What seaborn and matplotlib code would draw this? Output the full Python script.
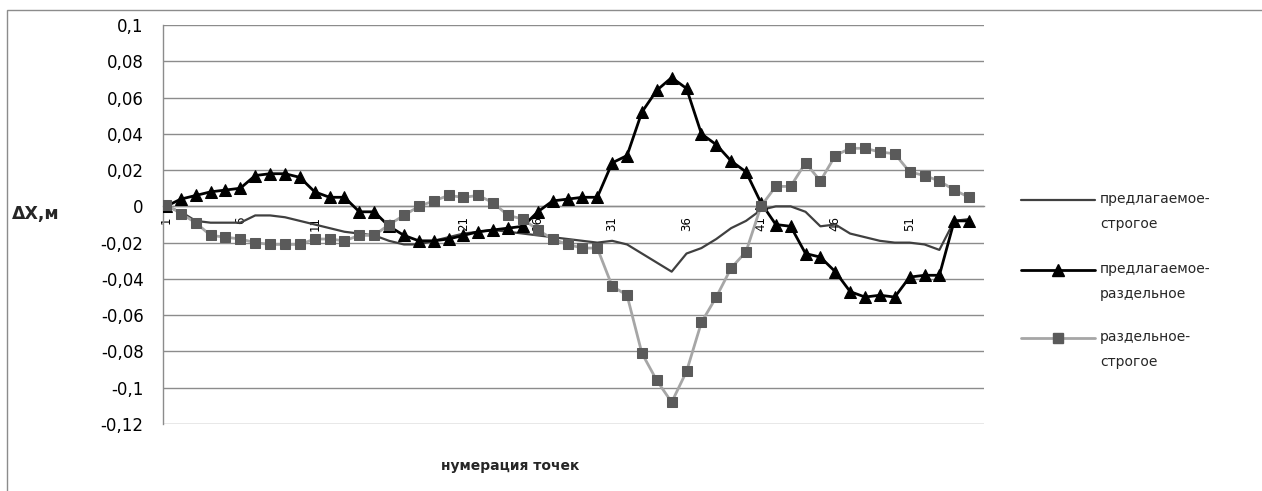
import matplotlib
matplotlib.use("Agg")
import matplotlib.pyplot as plt
from matplotlib.lines import Line2D
from matplotlib.patches import Rectangle
from matplotlib.ticker import FuncFormatter, FixedLocator
import seaborn as sns
import pandas as pd

points = list(range(1, 56))
x_labels = [1, 6, 11, 16, 21, 26, 31, 36, 41, 46, 51]

pred_strog = [0.000, -0.003, -0.008, -0.009, -0.009, -0.009, -0.005, -0.005, -0.006, -0.008,
              -0.010, -0.012, -0.014, -0.015, -0.016, -0.019, -0.021, -0.021, -0.019, -0.017,
              -0.015, -0.014, -0.013, -0.014, -0.015, -0.016, -0.017, -0.018, -0.019, -0.020,
              -0.019, -0.021, -0.026, -0.031, -0.036, -0.026, -0.023, -0.018, -0.012, -0.008,
              -0.002, 0.000, 0.000, -0.003, -0.011, -0.010, -0.015, -0.017, -0.019, -0.020,
              -0.020, -0.021, -0.024, -0.008, -0.007]

pred_razd = [0.000, 0.004, 0.006, 0.008, 0.009, 0.010, 0.017, 0.018, 0.018, 0.016,
             0.008, 0.005, 0.005, -0.003, -0.003, -0.011, -0.016, -0.019, -0.019, -0.018,
             -0.016, -0.014, -0.013, -0.012, -0.011, -0.003, 0.003, 0.004, 0.005, 0.005,
             0.024, 0.028, 0.052, 0.064, 0.071, 0.065, 0.040, 0.034, 0.025, 0.019,
             0.002, -0.010, -0.011, -0.026, -0.028, -0.036, -0.047, -0.050, -0.049, -0.050,
             -0.039, -0.038, -0.038, -0.008, -0.008]

razd_strog = [0.001, -0.004, -0.009, -0.016, -0.017, -0.018, -0.020, -0.021, -0.021, -0.021,
              -0.018, -0.018, -0.019, -0.016, -0.016, -0.010, -0.005, 0.000, 0.003, 0.006,
              0.005, 0.006, 0.002, -0.005, -0.007, -0.013, -0.018, -0.021, -0.023, -0.023,
              -0.044, -0.049, -0.081, -0.096, -0.108, -0.091, -0.064, -0.050, -0.034, -0.025,
              0.000, 0.011, 0.011, 0.024, 0.014, 0.028, 0.032, 0.032, 0.030, 0.029,
              0.019, 0.017, 0.014, 0.009, 0.005]

labels = ["предлагаемое-\nстрогое", "предлагаемое-\nраздельное", "раздельное-\nстрогое"]

sns.set_style("white")
plt.rcParams['font.family'] = ['DejaVu Sans']

W, H = 1262, 491
fig = plt.figure(figsize=(W / 100, H / 100), dpi=100)
ax = fig.add_axes([163 / W, 1 - 424 / H, (984 - 163) / W, (424 - 25) / H])

df = pd.DataFrame({"p": points, "a": pred_strog, "b": pred_razd, "c": razd_strog})

c_line = "#404040"
c_sq_line = "#a6a6a6"
c_sq = "#5a5a5a"

sns.lineplot(data=df, x="p", y="a", ax=ax, color=c_line, linewidth=1.6, zorder=3)
sns.lineplot(data=df, x="p", y="b", ax=ax, color="black", linewidth=2.0, marker="^",
             markersize=9, markerfacecolor="black", markeredgecolor="black", zorder=4)
sns.lineplot(data=df, x="p", y="c", ax=ax, color=c_sq_line, linewidth=2.0, marker="s",
             markersize=7, markerfacecolor=c_sq, markeredgecolor=c_sq, zorder=5)

ax.set_xlim(0.8, 56.0)
ax.set_ylim(-0.12, 0.1)
ax.set_yticks([0.1 - 0.02 * i for i in range(12)])


def fmt(v, pos):
    s = f"{v:.2f}".rstrip("0").rstrip(".")
    if s in ("-0", "0", "0."):
        return "0"
    return s.replace(".", ",")


ax.yaxis.set_major_formatter(FuncFormatter(fmt))
ax.grid(axis="y", color="#8c8c8c", linewidth=1.0)
ax.grid(axis="x", visible=False)
ax.set_axisbelow(True)

for s in ["top", "right"]:
    ax.spines[s].set_visible(False)
ax.spines["left"].set_color("#8c8c8c")
ax.spines["left"].set_linewidth(1.0)
ax.spines["bottom"].set_position(("data", 0))
ax.spines["bottom"].set_color("#8c8c8c")
ax.spines["bottom"].set_linewidth(1.0)

ax.tick_params(axis="y", direction="out", length=6, color="#8c8c8c", labelsize=12,
               pad=8, labelcolor="black")
ax.xaxis.set_major_locator(FixedLocator(list(range(1, 57))))
ax.set_xticklabels([str(i) if i in x_labels else "" for i in range(1, 57)])
ax.tick_params(axis="x", direction="out", length=5, color="#8c8c8c", labelsize=8.5,
               rotation=90, pad=2, labelcolor="black")
ax.set_xlabel("")
ax.set_ylabel("")

fig.text(12 / W, 1 - 214 / H, "ΔX,м", fontsize=12.5, fontweight="bold", va="center", ha="left")
fig.text(510 / W, 1 - 466 / H, "нумерация точек", fontsize=10, fontweight="bold",
         va="center", ha="center")

# legend (manual, handle aligned with first text line)
leg_y = [200, 270, 338]
styles = [dict(color=c_line, lw=1.6, marker=None),
          dict(color="black", lw=2.0, marker="^", markersize=9, mfc="black", mec="black"),
          dict(color=c_sq_line, lw=2.0, marker="s", markersize=7, mfc=c_sq, mec=c_sq)]
for yy, st, lab in zip(leg_y, styles, labels):
    fy = 1 - yy / H
    fig.add_artist(Line2D([1021 / W, 1095 / W], [fy, fy], transform=fig.transFigure,
                          color=st["color"], lw=st["lw"]))
    if st["marker"]:
        fig.add_artist(Line2D([1058 / W], [fy], transform=fig.transFigure, linestyle="none",
                              marker=st["marker"], markersize=st["markersize"],
                              mfc=st["mfc"], mec=st["mec"]))
    fig.text(1100 / W, fy + 8 / H, lab, fontsize=10, va="top", ha="left", linespacing=2.0)

fig.add_artist(Rectangle((7 / W, -0.1), 1.2, 1.1 - 10 / H, transform=fig.transFigure,
                         fill=False, edgecolor="#8c8c8c", linewidth=1.0))

fig.savefig("out.png", dpi=100)
